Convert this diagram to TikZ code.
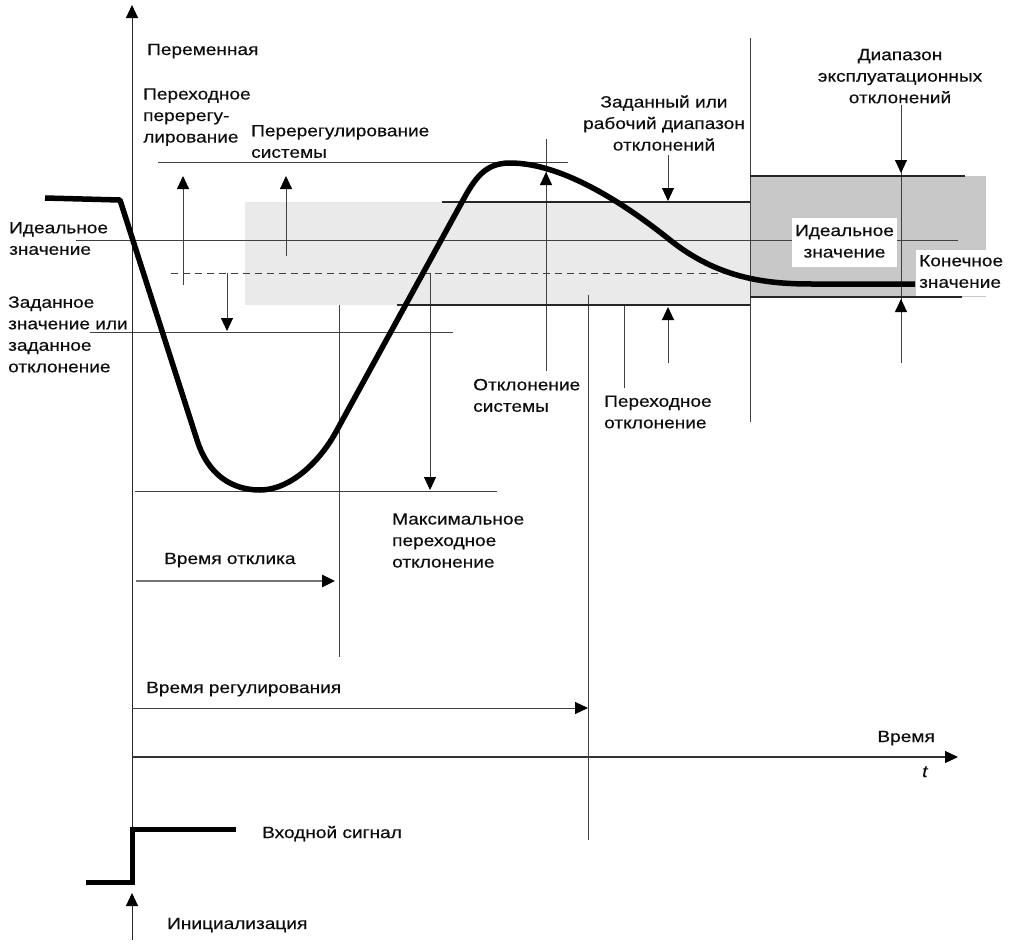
\documentclass[tikz,border=0pt]{standalone}
\usepackage{fontspec}
\setmainfont{Liberation Sans}[FakeStretch=1.17,FakeBold=0.35]
\usetikzlibrary{arrows.meta}
\definecolor{lightband}{HTML}{EAEAEA}
\definecolor{darkband}{HTML}{C8C8C8}
\tikzset{
  thin line/.style={line width=0.9pt, draw=black!75},
  band line/.style={line width=2.6pt, draw=black!85},
  curve line/.style={line width=5.5pt, draw=black, line join=round},
  tip arrow/.style={-{Triangle[length=13pt,width=12pt,color=black]}},
  lbl/.style={inner sep=0pt, font=\fontsize{16.3}{21.5}\selectfont, text=black!95},
}
\begin{document}
\begin{tikzpicture}[x=1pt,y=-1pt]
\useasboundingbox (0,0) rectangle (1011,945);
% bands
\fill[lightband] (245,202) rectangle (750,305);
\fill[darkband] (750,176) rectangle (986,297);
% thin horizontal reference lines
\draw[thin line] (158,162) -- (568,162);
\draw[thin line] (76,240) -- (958,240);
\draw[thin line, dash pattern=on 7pt off 5pt] (171,273) -- (738,273);
\draw[thin line] (90,332) -- (453,332);
\draw[thin line] (135,491) -- (497,491);
% axes
\draw[line width=1pt, black!85, tip arrow] (132,827) -- (132,5);
\draw[line width=1pt, black!85, tip arrow] (132,940) -- (132,893);
\draw[line width=1.3pt, black!80, tip arrow] (132,757) -- (958,757);
% time spans
\draw[thin line, tip arrow] (132,708) -- (588,708);
\draw[line width=2.6pt, draw=black!55, tip arrow] (136,581) -- (335,581);
\draw[thin line] (339,305) -- (339,657);
\draw[thin line] (588,295) -- (588,840);
% overshoot / deviation arrows
\draw[thin line, tip arrow] (183,285) -- (183,176);
\draw[thin line, tip arrow] (286,256) -- (286,176);
\draw[thin line, tip arrow] (227,273) -- (227,331);
\draw[thin line, tip arrow] (430,273) -- (430,490);
\draw[thin line] (546,139) -- (546,371);
\draw[thin line, tip arrow] (546,371) -- (546,172);
\draw[thin line] (624,306) -- (624,388);
\draw[thin line, tip arrow] (668,363) -- (668,307);
\draw[thin line, tip arrow] (668,155) -- (668,201);
\draw[thin line] (750,38) -- (750,422);
\draw[thin line] (901,105) -- (901,363);
\draw[thin line, tip arrow] (901,105) -- (901,173);
\draw[thin line, tip arrow] (901,363) -- (901,299);
% band boundary lines
\draw[band line] (442,202) -- (750,202);
\draw[band line] (397,305) -- (750,305);
\draw[band line] (750,176) -- (965,176);
\draw[band line] (750,297) -- (962,297);
% labels with white backgrounds
\node[lbl, fill=white, inner xsep=3pt, inner ysep=3pt, align=center] (ideal2) at (844.5,242.5)
  {\strut Идеальное\\\strut значение};
\node[lbl, fill=white, inner xsep=3pt, inner ysep=1.5pt, align=left, anchor=west] (final) at (916,272.7)
  {\strut Конечное\\\strut значение};
% response curve
\draw[curve line] (45,198) -- (120,200) -- (197,440)
  .. controls (208,475) and (232,490) .. (260,490)
  .. controls (290,490) and (320,462) .. (337,430)
  -- (462,202)
  .. controls (475,178) and (485,163) .. (510,163)
  .. controls (560,163) and (620,200) .. (670,240)
  .. controls (720,280) and (770,284) .. (813,284)
  -- (915,284);
% input signal
\draw[line width=5pt, black, line join=miter] (86,882) -- (132,882) -- (132,829) -- (236,829);
% labels
\node[lbl, anchor=base west] (var) at (147,55) {Переменная};
\node[lbl, anchor=west, align=left] (tovs) at (143,116.7)
  {\strut Переходное\\\strut перерегу-\\\strut лирование};
\node[lbl, anchor=west, align=left] (sovs) at (251,142.7)
  {\strut Перерегулирование\\\strut системы};
\node[lbl, anchor=west, align=left] (ideal1) at (9,239.7)
  {\strut Идеальное\\\strut значение};
\node[lbl, anchor=west, align=left] (setp) at (8,335.7)
  {\strut Заданное\\\strut значение или\\\strut заданное\\\strut отклонение};
\node[lbl, align=center] (wrange) at (664,124.7)
  {\strut Заданный или\\\strut рабочий диапазон\\\strut отклонений};
\node[lbl, align=center] (orange) at (900,77.4)
  {\strut Диапазон\\\strut эксплуатационных\\\strut отклонений};
\node[lbl, anchor=west, align=left] (sdev) at (473,396.7)
  {\strut Отклонение\\\strut системы};
\node[lbl, anchor=west, align=left] (tdev) at (604,413.2)
  {\strut Переходное\\\strut отклонение};
\node[lbl, anchor=west, align=left] (mdev) at (392,541.7)
  {\strut Максимальное\\\strut переходное\\\strut отклонение};
\node[lbl, anchor=base west] (resp) at (164,564) {Время отклика};
\node[lbl, anchor=base west] (settle) at (146,693) {Время регулирования};
\node[lbl, anchor=base east] (time) at (935,742) {Время};
\node[lbl, anchor=base west] (tlab) at (922,777) {\itshape t};
\node[lbl, anchor=base west] (input) at (262,838) {Входной сигнал};
\node[lbl, anchor=base west] (init) at (167,929) {Инициализация};
\end{tikzpicture}
\end{document}
